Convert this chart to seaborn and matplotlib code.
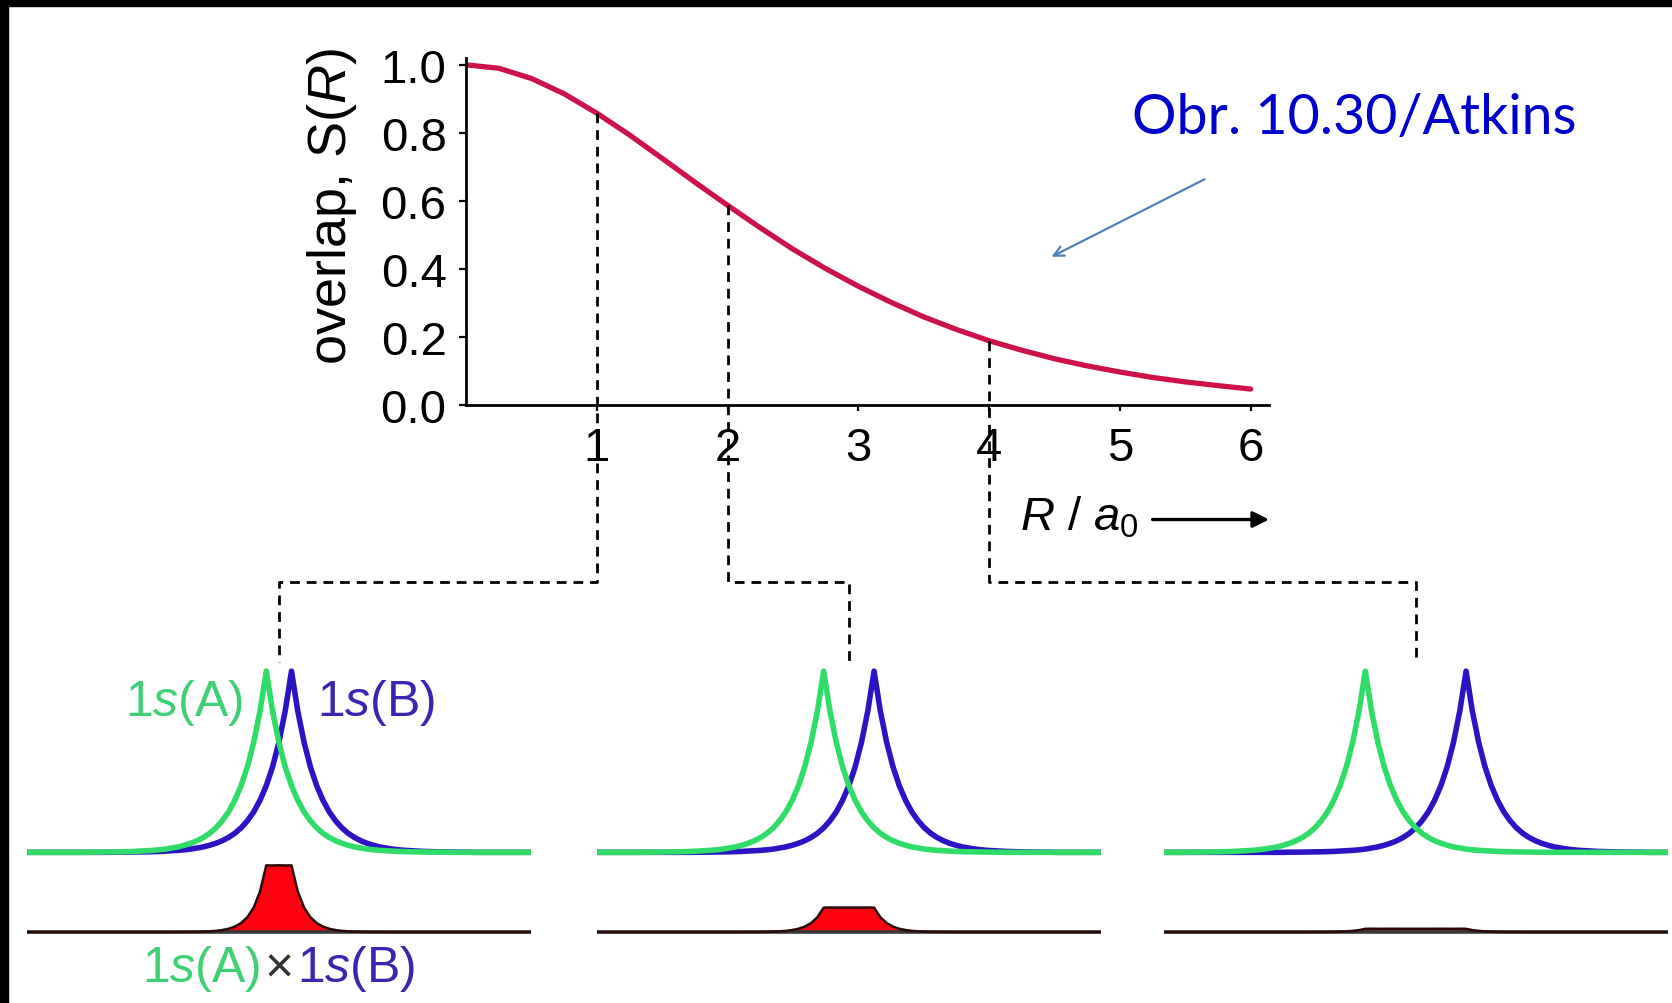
import matplotlib
matplotlib.use("Agg")
import matplotlib.pyplot as plt
from matplotlib.lines import Line2D
from matplotlib.patches import Rectangle, FancyArrowPatch
import numpy as np
import pandas as pd
import seaborn as sns

# overlap integral S(R)
r_values = [0, 0.25, 0.5, 0.75, 1, 1.25, 1.5, 1.75, 2, 2.25, 2.5, 2.75, 3,
            3.25, 3.5, 3.75, 4, 4.25, 4.5, 4.75, 5, 5.25, 5.5, 5.75, 6]
overlap = [1.000, 0.990, 0.960, 0.915, 0.858, 0.794, 0.725, 0.655, 0.587, 0.521,
           0.458, 0.401, 0.349, 0.302, 0.259, 0.222, 0.189, 0.161, 0.136, 0.115,
           0.097, 0.081, 0.068, 0.057, 0.047]
x_ticks = [1, 2, 3, 4, 5, 6]
y_ticks = [0.0, 0.2, 0.4, 0.6, 0.8, 1.0]

# 1s orbital height vs distance from its nucleus (a0, step 0.25)
profile_step = 0.25
profile = [1.000, 0.779, 0.607, 0.472, 0.368, 0.287, 0.223, 0.174, 0.135, 0.105,
           0.082, 0.064, 0.050, 0.039, 0.030, 0.024, 0.018, 0.014, 0.011, 0.009,
           0.007, 0.005, 0.004, 0.003, 0.0025, 0.002, 0.0015, 0.001, 0.001]

# internuclear separations shown in the three lower panels
separations = [1, 2, 4]

green = "#2fdc68"
blue = "#2a14c4"
crimson = "#cc1248"

sns.set_theme(style="white")
plt.rcParams["font.family"] = ["Liberation Sans", "DejaVu Sans"]
plt.rcParams["mathtext.fontset"] = "custom"
plt.rcParams["mathtext.rm"] = "Liberation Sans"
plt.rcParams["mathtext.it"] = "Liberation Sans:italic"

fig = plt.figure(figsize=(16.72, 10.04), dpi=100)
fig.patch.set_facecolor("white")

# ---- upper panel: S(R) ----
ax = fig.add_axes([0.2787, 0.5956, 0.4803, 0.3456])
sns.lineplot(x=r_values, y=overlap, color=crimson, lw=3.8, ax=ax)
ax.set_xlim(0, 6.14)
ax.set_ylim(0, 1.02)
ax.set_xticks(x_ticks)
ax.set_yticks(y_ticks)
ax.set_yticklabels([f"{v:.1f}" for v in y_ticks])
for side in ["top", "right"]:
    ax.spines[side].set_visible(False)
for side in ["left", "bottom"]:
    ax.spines[side].set_color("black")
    ax.spines[side].set_linewidth(2.0)
ax.tick_params(axis="x", direction="out", length=4, width=1.6, pad=11,
               labelsize=34, colors="black", bottom=True)
ax.tick_params(axis="y", direction="out", length=5, width=1.6, pad=9,
               labelsize=34, colors="black", left=True)
ax.set_ylabel("overlap, S($R$)", fontsize=39, color="black")
ax.yaxis.set_label_coords(-0.133, 0.575)
ax.text(0.69, -0.323, "$R$ / $a_0$", transform=ax.transAxes, fontsize=34,
        ha="left", va="center", color="black")
ax.annotate("", xy=(1.0, -0.33), xytext=(0.855, -0.33), xycoords="axes fraction",
            arrowprops=dict(arrowstyle="-|>", color="black", lw=2.4,
                            mutation_scale=24, shrinkA=0, shrinkB=0))
ax.patch.set_alpha(0)

# ---- lower panels: orbitals and their product ----
grid = np.arange(-10, 10.001, profile_step)
prod_base = -0.44


def lookup(dist):
    idx = np.rint(dist / profile_step).astype(int)
    vals = np.zeros_like(dist)
    ok = idx < len(profile)
    vals[ok] = np.array(profile)[idx[ok]]
    return vals


panel_left = [0.0161, 0.357, 0.696]
panels = []
for left, sep in zip(panel_left, separations):
    pax = fig.add_axes([left, 0.0598, 0.3014, 0.2798])
    psi_a = lookup(np.abs(grid + sep / 2))
    psi_b = lookup(np.abs(grid - sep / 2))
    df = pd.DataFrame({"x": grid, "a": psi_a, "b": psi_b,
                       "ab": prod_base + psi_a * psi_b})
    pax.plot(grid, np.full_like(grid, prod_base), color="#383838", lw=2.6)
    pax.fill_between(df["x"], prod_base, df["ab"], color="#ff0010", lw=0)
    sns.lineplot(data=df, x="x", y="ab", color="#2a0a0a", lw=1.8, ax=pax)
    sns.lineplot(data=df, x="x", y="b", color=blue, lw=4.0, ax=pax)
    sns.lineplot(data=df, x="x", y="a", color=green, lw=4.0, ax=pax)
    pax.set_xlim(-10, 10)
    pax.set_ylim(-0.5, 1.05)
    pax.set_axis_off()
    panels.append(pax)

p1 = panels[0]
p1.text(-1.4, 0.83, "1$s$(A)", color="#3fcf75", fontsize=36, ha="right", va="center")
p1.text(1.5, 0.83, "1$s$(B)", color="#3a24b0", fontsize=36, ha="left", va="center")
p1.text(-0.72, -0.64, "1$s$(A)", color="#3fcf75", fontsize=36, ha="right", va="center")
p1.text(0, -0.64, "×", color="#333333", fontsize=36, ha="center", va="center")
p1.text(0.72, -0.64, "1$s$(B)", color="#3a24b0", fontsize=36, ha="left", va="center")

# ---- dashed connectors from S(R) down to each panel ----
to_fig = fig.transFigure.inverted()
connector_level = -0.52
for sep, pax in zip(separations, panels):
    s_val = overlap[r_values.index(sep)]
    start = ax.transData.transform((sep, s_val))
    level = ax.transData.transform((0, connector_level))[1]
    end = pax.transData.transform((0, 1.05))
    pts = to_fig.transform([[start[0], start[1]], [start[0], level],
                            [end[0], level], [end[0], end[1]]])
    fig.add_artist(Line2D(pts[:, 0], pts[:, 1], transform=fig.transFigure,
                          color="black", lw=2.0, linestyle=(0, (3.5, 2.5))))

# ---- annotation ----
fig.text(0.677, 0.8815, "Obr. 10.30/Atkins", fontsize=40, color="#0000cc",
         family=["Lato", "DejaVu Sans"], ha="left", va="center")
fig.add_artist(FancyArrowPatch(
    (0.7219, 0.8217), (0.6274, 0.7420), transform=fig.transFigure,
    arrowstyle="->", mutation_scale=18, color="#4f81bd", lw=1.6))

# black frame on left and top edges
fig.add_artist(Rectangle((0, 0), 8 / 1672, 1, transform=fig.transFigure,
                         color="black", zorder=10))
fig.add_artist(Rectangle((0, 1 - 7 / 1004), 1, 7 / 1004, transform=fig.transFigure,
                         color="black", zorder=10))

fig.savefig("out.png", dpi=100)
